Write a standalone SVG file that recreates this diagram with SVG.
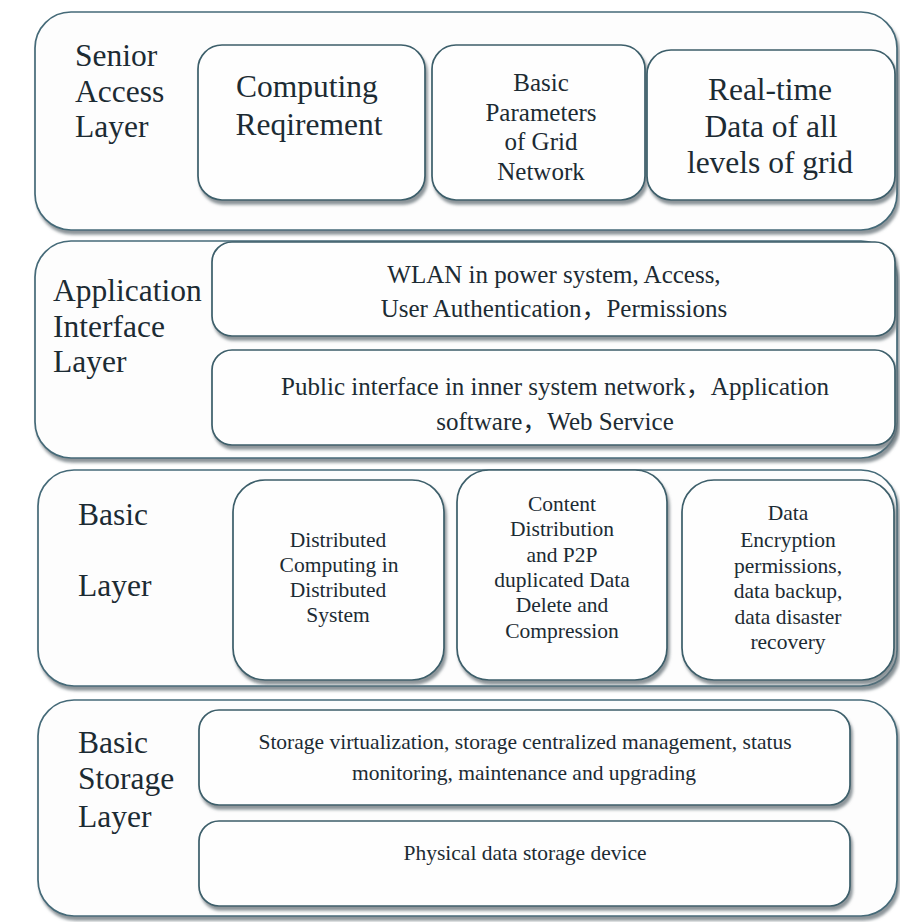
<svg xmlns="http://www.w3.org/2000/svg" width="900" height="922" viewBox="0 0 900 922">
  <defs>
    <filter id="shadow" x="-5%" y="-5%" width="110%" height="115%">
      <feDropShadow dx="2" dy="4" stdDeviation="1.6" flood-color="#6f7a80" flood-opacity="0.8"/>
    </filter>
  </defs>
  <style>
    .layer { fill: #fdfdfd; stroke: #456a78; stroke-width: 1.7; filter: url(#shadow); }
    .box { fill: #fefefe; stroke: #3c5e6a; stroke-width: 1.7; filter: url(#shadow); }
    text { font-family: "Liberation Serif", "Times New Roman", Tinos, "DejaVu Serif", serif; fill: #1c2b33; }
    .cjk { font-family: "Noto Sans CJK SC", sans-serif; }
    .lbl { font-size: 31.5px; }
    .big { font-size: 31.5px; text-anchor: middle; }
    .mid { font-size: 25px; text-anchor: middle; }
    .sm { font-size: 21.5px; text-anchor: middle; }
  </style>
  <rect width="900" height="922" fill="#ffffff"/>

  <!-- Senior access layer -->
  <g id="senior-access-layer">
    <rect class="layer" x="35" y="12" width="862" height="218" rx="36"/>
    <text class="lbl" x="75" y="66">Senior</text>
    <text class="lbl" x="75" y="102">Access</text>
    <text class="lbl" x="75" y="137">Layer</text>
  </g>
  <g id="computing-requirement">
    <rect class="box" x="198" y="45" width="227" height="155" rx="24"/>
    <text class="big" x="307" y="97">Computing</text>
    <text class="big" x="309" y="135">Reqirement</text>
  </g>
  <g id="grid-parameters">
    <rect class="box" x="432" y="45" width="213" height="155" rx="24"/>
    <text class="mid" x="541" y="91">Basic</text>
    <text class="mid" x="541" y="121">Parameters</text>
    <text class="mid" x="541" y="150">of Grid</text>
    <text class="mid" x="541" y="180">Network</text>
  </g>
  <g id="realtime-data">
    <rect class="box" x="647" y="50" width="248" height="150" rx="24"/>
    <text class="big" x="770" y="100">Real-time</text>
    <text class="big" x="771" y="137">Data of all</text>
    <text class="big" x="770" y="173">levels of grid</text>
  </g>

  <!-- Application interface layer -->
  <g id="application-interface-layer">
    <rect class="layer" x="35" y="241" width="862" height="217" rx="36"/>
    <text class="lbl" x="53" y="301">Application</text>
    <text class="lbl" x="53" y="337">Interface</text>
    <text class="lbl" x="53" y="372">Layer</text>
  </g>
  <g id="wlan-access">
    <rect class="box" x="212" y="242" width="683" height="94" rx="20"/>
    <text class="mid" x="554" y="283">WLAN in power system, Access,</text>
    <text class="mid" x="554" y="317">User Authentication<tspan class="cjk">，</tspan>Permissions</text>
  </g>
  <g id="public-interface">
    <rect class="box" x="212" y="350" width="683" height="95" rx="20"/>
    <text class="mid" x="555" y="395">Public interface in inner system network<tspan class="cjk">，</tspan>Application</text>
    <text class="mid" x="555" y="430">software<tspan class="cjk">，</tspan>Web Service</text>
  </g>

  <!-- Basic layer -->
  <g id="basic-layer">
    <rect class="layer" x="38" y="470" width="859" height="216" rx="36"/>
    <text class="lbl" x="78" y="525">Basic</text>
    <text class="lbl" x="78" y="596">Layer</text>
  </g>
  <g id="distributed-computing">
    <rect class="box" x="233" y="480" width="211" height="200" rx="32"/>
    <text class="sm" x="338" y="547">Distributed</text>
    <text class="sm" x="339" y="572">Computing in</text>
    <text class="sm" x="338" y="597">Distributed</text>
    <text class="sm" x="338" y="622">System</text>
  </g>
  <g id="content-distribution">
    <rect class="box" x="457" y="470" width="210" height="210" rx="32"/>
    <text class="sm" x="562" y="511">Content</text>
    <text class="sm" x="562" y="536">Distribution</text>
    <text class="sm" x="562" y="562">and P2P</text>
    <text class="sm" x="562" y="587">duplicated Data</text>
    <text class="sm" x="562" y="612">Delete and</text>
    <text class="sm" x="562" y="638">Compression</text>
  </g>
  <g id="data-encryption">
    <rect class="box" x="682" y="480" width="212" height="200" rx="32"/>
    <text class="sm" x="788" y="520">Data</text>
    <text class="sm" x="788" y="547">Encryption</text>
    <text class="sm" x="788" y="573">permissions,</text>
    <text class="sm" x="788" y="598">data backup,</text>
    <text class="sm" x="788" y="624">data disaster</text>
    <text class="sm" x="788" y="649">recovery</text>
  </g>

  <!-- Basic storage layer -->
  <g id="basic-storage-layer">
    <rect class="layer" x="38" y="700" width="859" height="216" rx="36"/>
    <text class="lbl" x="78" y="753">Basic</text>
    <text class="lbl" x="78" y="789">Storage</text>
    <text class="lbl" x="78" y="827">Layer</text>
  </g>
  <g id="storage-management">
    <rect class="box" x="199" y="710" width="651" height="95" rx="20"/>
    <text class="sm" x="525" y="749">Storage virtualization, storage centralized management, status</text>
    <text class="sm" x="524" y="780">monitoring, maintenance and upgrading</text>
  </g>
  <g id="physical-storage">
    <rect class="box" x="199" y="821" width="651" height="85" rx="20"/>
    <text class="sm" x="525" y="860">Physical data storage device</text>
  </g>

  <!-- no connectors are drawn; the layers are stacked blocks -->
  <g id="connectors"/>
</svg>
